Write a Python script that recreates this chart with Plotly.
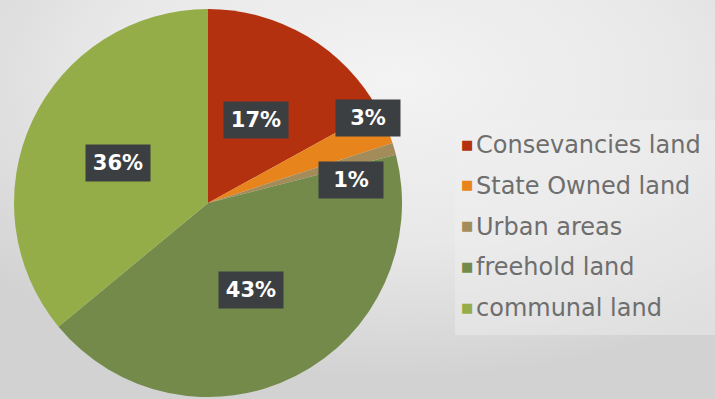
import base64
import plotly.graph_objects as go

# ---- data ----
categories = ["Consevancies land", "State Owned land", "Urban areas", "freehold land", "communal land"]
values = [17, 3, 1, 43, 36]
colors = ["#B3310F", "#E8841C", "#A38B5A", "#738A4B", "#94AD48"]

# label box centres (pixels in the 715x399 canvas)
label_px = [(256, 120), (368, 118), (351, 180), (251, 290), (118, 163)]

W, H = 715, 399

def px(x, y):
    return x / W, 1 - y / H

# background: soft radial grey gradient
svg = f"""<svg xmlns='http://www.w3.org/2000/svg' width='{W}' height='{H}'>
<defs><radialGradient id='g' cx='0.55' cy='0.2' r='0.75'>
<stop offset='0' stop-color='#f3f3f3'/><stop offset='0.55' stop-color='#e8e8e8'/>
<stop offset='1' stop-color='#d2d2d2'/></radialGradient></defs>
<rect width='{W}' height='{H}' fill='url(#g)'/></svg>"""
bg_uri = "data:image/svg+xml;base64," + base64.b64encode(svg.encode()).decode()

fig = go.Figure()
fig.add_trace(go.Pie(
    labels=categories, values=values, sort=False, direction="clockwise", rotation=0,
    marker=dict(colors=colors, line=dict(width=0)),
    textinfo="none", hoverinfo="label+percent", showlegend=False,
    domain=dict(x=[14 / W, 402 / W], y=[2 / H, 390 / H]),
))

annotations = []
total = sum(values)
for (x, y), v in zip(label_px, values):
    ax, ay = px(x, y)
    annotations.append(dict(
        x=ax, y=ay, xref="paper", yref="paper", showarrow=False,
        text=f"{round(100 * v / total)}%",
        font=dict(family="DejaVu Sans", size=21, color="#ffffff", weight="bold"),
        bgcolor="#3c3f42", width=62, height=34, borderpad=1,
        xanchor="center", yanchor="middle",
    ))

# custom legend
row0, step = 144, 40.8
for i, (cat, col) in enumerate(zip(categories, colors)):
    yy = row0 + i * step
    sx, sy = px(467, yy)
    annotations.append(dict(
        x=sx, y=sy, xref="paper", yref="paper", showarrow=False,
        text="■", font=dict(family="DejaVu Sans", size=13, color=col),
        xanchor="center", yanchor="middle",
    ))
    tx, ty = px(474, yy + 1)
    annotations.append(dict(
        x=tx, y=ty, xref="paper", yref="paper", showarrow=False,
        text=cat, font=dict(family="DejaVu Sans", size=24, color="#6e6e6e"),
        xanchor="left", yanchor="middle",
    ))

fig.update_layout(
    width=W, height=H, margin=dict(l=0, r=0, t=0, b=0),
    paper_bgcolor="#e4e4e4", plot_bgcolor="rgba(0,0,0,0)",
    images=[dict(source=bg_uri, xref="paper", yref="paper", x=0, y=1, sizex=1, sizey=1,
                 sizing="stretch", layer="below", xanchor="left", yanchor="top")],
    shapes=[dict(type="rect", xref="paper", yref="paper",
                 x0=455 / W, x1=1, y0=1 - 335 / H, y1=1 - 120 / H,
                 fillcolor="rgba(240,240,240,0.45)", line=dict(width=0), layer="below")],
    annotations=annotations,
)

fig.write_html("out.html")
